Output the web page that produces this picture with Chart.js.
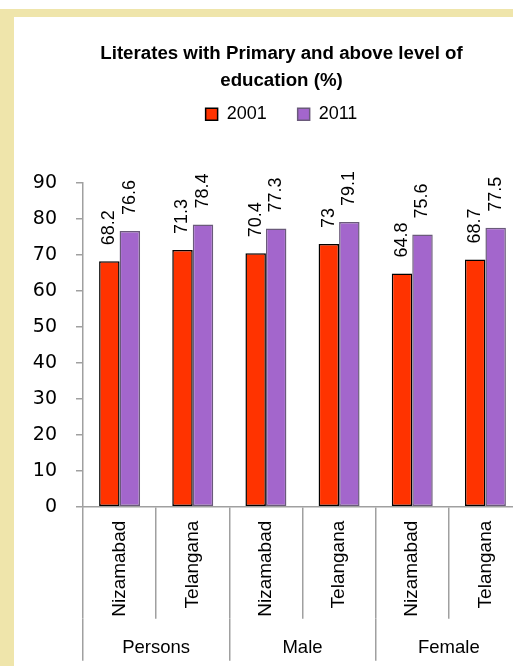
<!DOCTYPE html>
<html><head><meta charset="utf-8">
<script src="https://cdn.jsdelivr.net/npm/chart.js@4/dist/chart.umd.min.js"></script>
<style>
html,body{margin:0;padding:0;background:#fff;width:513px;height:666px;overflow:hidden;}
#frame{position:absolute;left:0;top:9px;width:513px;height:657px;background:#EFE5AB;}
#wrap{position:absolute;left:14px;top:17px;width:535px;height:649px;background:#fff;}
</style></head><body>
<div id="frame"></div>
<div id="wrap"><canvas id="c"></canvas></div>
<script>
const titleLines = ['Literates with Primary and above level of', 'education (%)'];
const groups = ['Persons', 'Male', 'Female'];
const categories = ['Nizamabad', 'Telangana', 'Nizamabad', 'Telangana', 'Nizamabad', 'Telangana'];
const seriesNames = ['2001', '2011'];
const values2001 = [68.2, 71.3, 70.4, 73, 64.8, 68.7];
const values2011 = [76.6, 78.4, 77.3, 79.1, 75.6, 77.5];
const yMin = 0, yMax = 90, yStep = 10;

const AXIS = '#a0a0a0';
Chart.defaults.font.family = '"Liberation Sans", Arial, sans-serif';
Chart.defaults.color = '#000';

const valueLabels = {
  id: 'valueLabels',
  afterDatasetsDraw(chart) {
    const ctx = chart.ctx;
    ctx.save();
    ctx.font = '18px "Liberation Sans", Arial, sans-serif';
    ctx.fillStyle = '#000';
    ctx.textAlign = 'left';
    ctx.textBaseline = 'middle';
    chart.data.datasets.forEach((ds, i) => {
      chart.getDatasetMeta(i).data.forEach((bar, j) => {
        ctx.save();
        ctx.translate(bar.x, bar.y - 16);
        ctx.rotate(-Math.PI / 2);
        ctx.fillText(String(ds.data[j]), 0, 0);
        ctx.restore();
      });
    });
    ctx.restore();
  }
};

new Chart(document.getElementById('c'), {
  type: 'bar',
  data: {
    labels: categories,
    datasets: [
      { label: seriesNames[0], data: values2001, backgroundColor: '#FF3300', borderColor: '#000000', borderWidth: 1.5, borderSkipped: false },
      { label: seriesNames[1], data: values2011, backgroundColor: '#A366CC', borderColor: '#6A5A7A', borderWidth: 1.5, borderSkipped: false }
    ]
  },
  plugins: [valueLabels],
  options: {
    responsive: true,
    maintainAspectRatio: false,
    animation: false,
    devicePixelRatio: 1,
    layout: { padding: { left: 27, right: 27, top: 0, bottom: 0 } },
    datasets: { bar: { categoryPercentage: 0.56, barPercentage: 1 } },
    plugins: {
      tooltip: { enabled: false },
      title: {
        display: true,
        text: titleLines,
        color: '#000',
        font: { size: 18.7, weight: 'bold', lineHeight: 1.45 },
        padding: { top: 23, bottom: -20 }
      },
      legend: {
        display: true,
        position: 'top',
        labels: {
          boxWidth: 12, boxHeight: 12, padding: 31,
          color: '#000',
          font: { size: 18 }
        }
      },
      subtitle: {
        display: true,
        text: '',
        weight: 500,
        font: { size: 10, lineHeight: 1 },
        padding: { top: 39.5, bottom: 0 }
      }
    },
    scales: {
      y: {
        min: yMin, max: yMax,
        ticks: { stepSize: yStep, mirror: true, crossAlign: 'far', padding: -50.2, color: '#000', font: { family: '"DejaVu Sans", sans-serif', size: 19 } },
        grid: { drawOnChartArea: false, drawTicks: true, tickLength: 7, color: AXIS, lineWidth: 1.5 },
        border: { display: true, color: AXIS, width: 1.5 },
        afterFit(s) { s.width = 42; }
      },
      x: {
        type: 'category',
        position: 'bottom',
        weight: 0,
        offset: true,
        ticks: { autoSkip: false, minRotation: 90, maxRotation: 90, padding: -98, color: '#000', font: { size: 19 } },
        grid: { offset: true, drawOnChartArea: false, drawTicks: true, tickLength: 112, color: AXIS, lineWidth: 1.5 },
        border: { display: true, color: AXIS, width: 1.5 },
        afterFit(s) { s.height = 112; }
      },
      x2: {
        type: 'category',
        position: 'bottom',
        weight: 1,
        labels: groups,
        offset: true,
        ticks: { autoSkip: false, minRotation: 0, maxRotation: 0, padding: -24, color: '#000', font: { size: 18.5 } },
        grid: { offset: true, drawOnChartArea: false, drawTicks: true, tickLength: 42, color: AXIS, lineWidth: 1.5 },
        border: { display: false },
        afterFit(s) { s.height = 47.3; }
      }
    }
  }
});
</script>
</body></html>
